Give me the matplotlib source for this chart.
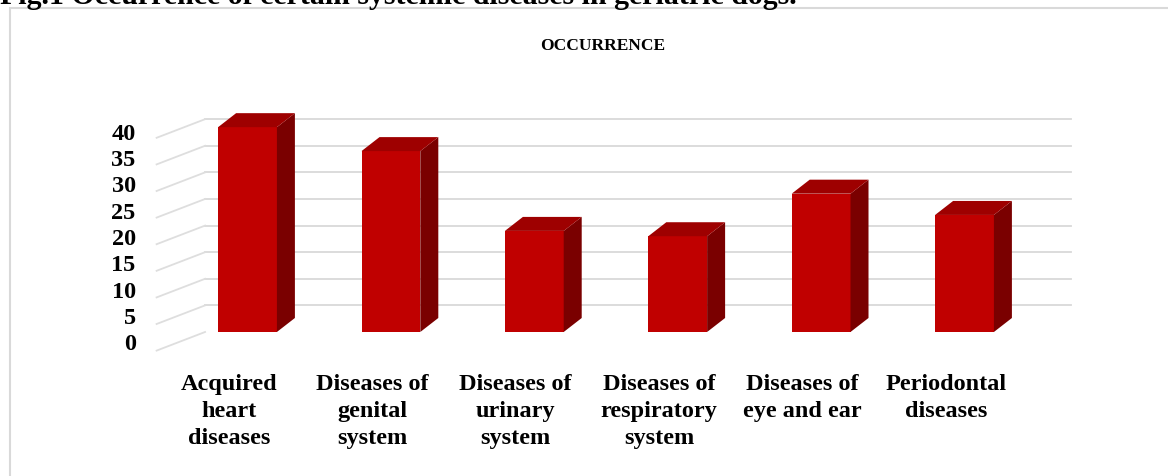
import matplotlib
matplotlib.use("Agg")
import matplotlib.pyplot as plt
from matplotlib.patches import Polygon, Rectangle

# data
categories = ["Acquired\nheart\ndiseases", "Diseases of\ngenital\nsystem",
              "Diseases of\nurinary\nsystem", "Diseases of\nrespiratory\nsystem",
              "Diseases of\neye and ear", "Periodontal\ndiseases"]
occurrence = [38.5, 34, 19, 18, 26, 22]
yticks = [0, 5, 10, 15, 20, 25, 30, 35, 40]

front_c = "#c00000"
side_c = "#7a0000"
top_c = "#9e0000"
grid_c = "#d9d9d9"

plt.rcParams['font.family'] = ['Liberation Serif', 'DejaVu Serif']
plt.rcParams['font.weight'] = 'bold'

fig = plt.figure(figsize=(11.68, 4.77), dpi=100)
ax = fig.add_axes([0, 0, 1, 1])
ax.set_xlim(-1.726, 6.419)
ax.set_ylim(-27.07, 62.59)
ax.axis("off")

# chart frame (runs off right/bottom edge)
fig.add_artist(Rectangle((10 / 1168, -0.1), 2, 1 - 9 / 477 + 0.1,
                         transform=fig.transFigure, fill=False,
                         edgecolor="#d9d9d9", lw=1.5))

# caption, mostly cut off at the top like in the source
fig.text(0.0, 1 - 4 / 477, "Fig.1 Occurrence of certain systemic diseases in geriatric dogs.",
         fontsize=21.5, fontweight="bold", va="baseline", ha="left")

fig.text(603 / 1168, 1 - 46 / 477, "OCCURRENCE", fontsize=12.5,
         fontweight="bold", ha="center", va="center")

# 3d geometry
wall_x0, wall_x1 = -0.296, 5.742
side_x0 = -0.634
side_dy = 3.5
w = 0.41
dx = 0.1255
dy = 2.63

# back wall gridlines and left side wall lines
for v in yticks:
    if v > 0:
        ax.plot([wall_x0, wall_x1], [v, v], color=grid_c, lw=1.3, zorder=1)
    ax.plot([side_x0, wall_x0], [v - side_dy, v], color="#dedede", lw=1.3, zorder=1)
    ax.text(-0.78, v * 0.99 - 2.25, str(v), ha="right", va="center",
            fontsize=17.5, fontweight="bold")

x = list(range(len(categories)))
ax.bar(x, occurrence, width=w, color=front_c, zorder=3)
for xi, v in zip(x, occurrence):
    r = xi + w / 2
    l = xi - w / 2
    side = Polygon([(r, 0), (r + dx, dy), (r + dx, v + dy), (r, v)],
                   closed=True, facecolor=side_c, edgecolor="none", zorder=3)
    top = Polygon([(l, v), (l + dx, v + dy), (r + dx, v + dy), (r, v)],
                  closed=True, facecolor=top_c, edgecolor="none", zorder=3)
    ax.add_patch(side)
    ax.add_patch(top)

for xi, lab in zip(x, categories):
    ax.text(xi - 0.13, -7.8, lab, ha="center", va="top", fontsize=17.5,
            fontweight="bold", linespacing=1.35)

fig.savefig("out.png", dpi=100)
